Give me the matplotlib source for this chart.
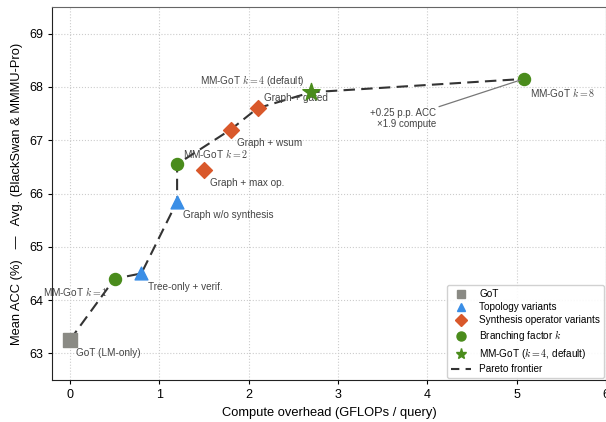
import matplotlib
matplotlib.use("Agg")
import matplotlib.pyplot as plt
from matplotlib.lines import Line2D

plt.rcParams['font.family'] = ['Liberation Sans', 'DejaVu Sans']
plt.rcParams['mathtext.fontset'] = 'cm'

# data
got_x, got_y = [0.0], [63.25]
topo_x, topo_y = [0.8, 1.2], [64.5, 65.85]
topo_lbl = ["Tree-only + verif.", "Graph w/o synthesis"]
syn_x, syn_y = [1.5, 1.8, 2.1], [66.45, 67.2, 67.6]
syn_lbl = ["Graph + max op.", "Graph + wsum", "Graph + gated"]
br_x, br_y = [0.5, 1.2, 5.08], [64.4, 66.55, 68.15]
br_lbl = ["MM-GoT $k=1$", "MM-GoT $k=2$", "MM-GoT $k=8$"]
def_x, def_y = [2.7], [67.9]
pareto_x = [0.0, 0.5, 0.8, 1.2, 1.2, 1.8, 2.1, 2.7, 5.08]
pareto_y = [63.25, 64.4, 64.5, 65.85, 66.55, 67.2, 67.6, 67.9, 68.15]

fig = plt.figure(figsize=(6.06, 4.22), dpi=100)
ax = fig.add_axes([0.0858, 0.0995, 0.9142, 0.8839])

c_got = '#8a8a84'
c_topo = '#3a8ee6'
c_syn = '#d9582b'
c_br = '#4a8c1c'

ax.plot(pareto_x, pareto_y, ls=(0, (5.5, 3)), color='#333333', lw=1.5, zorder=2)
ax.scatter(got_x, got_y, marker='s', s=90, color=c_got, zorder=3)
ax.scatter(topo_x, topo_y, marker='^', s=85, color=c_topo, zorder=3)
ax.scatter(syn_x, syn_y, marker='D', s=65, color=c_syn, zorder=3)
ax.scatter(br_x, br_y, marker='o', s=75, color=c_br, zorder=3)
ax.scatter(def_x, def_y, marker='*', s=170, color=c_br, zorder=4)

tc = '#444444'
fs = 7.2
ax.text(0.07, 63.0, "GoT (LM-only)", fontsize=fs, color=tc, va='center', ha='left')
ax.text(0.87, 64.24, topo_lbl[0], fontsize=fs, color=tc, va='center', ha='left')
ax.text(1.27, 65.6, topo_lbl[1], fontsize=fs, color=tc, va='center', ha='left')
ax.text(1.57, 66.19, syn_lbl[0], fontsize=fs, color=tc, va='center', ha='left')
ax.text(1.87, 66.94, syn_lbl[1], fontsize=fs, color=tc, va='center', ha='left')
ax.text(2.17, 67.8, syn_lbl[2], fontsize=fs, color=tc, va='center', ha='left')
ax.text(0.42, 64.16, br_lbl[0], fontsize=fs, color=tc, va='center', ha='right')
ax.text(1.27, 66.75, br_lbl[1], fontsize=fs, color=tc, va='center', ha='left')
ax.text(5.15, 67.9, br_lbl[2], fontsize=fs, color=tc, va='center', ha='left')
ax.text(2.63, 68.12, "MM-GoT $k=4$ (default)", fontsize=fs, color=tc, va='center', ha='right')

ax.annotate("+0.25 p.p. ACC\n×1.9 compute", xy=(5.08, 68.15), xytext=(4.10, 67.41),
            fontsize=7, color=tc, ha='right', va='center', multialignment='right',
            arrowprops=dict(arrowstyle='-', color='#777777', lw=0.9, shrinkA=0, shrinkB=3,
                            relpos=(1.0, 1.0)))

ax.set_xlim(-0.2, 6)
ax.set_ylim(62.5, 69.5)
ax.set_xticks([0, 1, 2, 3, 4, 5, 6])
ax.set_yticks([63, 64, 65, 66, 67, 68, 69])
ax.grid(True, ls=':', color='#cccccc', lw=0.8)
ax.set_axisbelow(True)
ax.tick_params(labelsize=9, length=3)
ax.set_xlabel("Compute overhead (GFLOPs / query)", fontsize=9.3)
ax.set_ylabel("Mean ACC (%)   —   Avg. (BlackSwan & MMMU-Pro)", fontsize=9.3)
for s in ['left', 'bottom']:
    ax.spines[s].set_color('#222222')
for s in ['top', 'right']:
    ax.spines[s].set_color('#666666')

handles = [
    Line2D([], [], ls='none', marker='s', color=c_got, markersize=6),
    Line2D([], [], ls='none', marker='^', color=c_topo, markersize=6),
    Line2D([], [], ls='none', marker='D', color=c_syn, markersize=6.5),
    Line2D([], [], ls='none', marker='o', color=c_br, markersize=6.5),
    Line2D([], [], ls='none', marker='*', color=c_br, markersize=8),
    Line2D([], [], ls=(0, (4, 3)), color='#333333', lw=1.5),
]
labels = ['GoT', 'Topology variants', 'Synthesis operator variants',
          'Branching factor $k$', 'MM-GoT ($k=4$, default)', 'Pareto frontier']
ax.legend(handles, labels, loc='lower right', fontsize=7.2, frameon=True, framealpha=0.9,
          edgecolor='#cccccc', fancybox=True, bbox_to_anchor=(1.0, 0.0),
          borderaxespad=0.2, labelspacing=0.3)

fig.savefig("out.png", dpi=100)
